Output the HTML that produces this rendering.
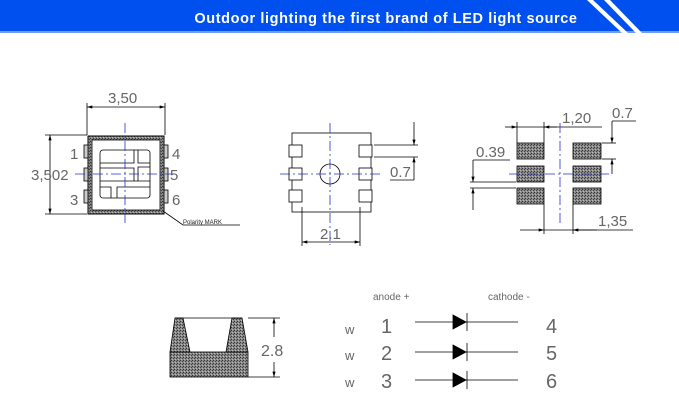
<!DOCTYPE html>
<html><head><meta charset="utf-8"><style>
body{margin:0;width:679px;height:419px;overflow:hidden;background:#fff}
svg{display:block}
text{font-family:"Liberation Sans",sans-serif;fill:#666}
</style></head><body>
<svg width="679" height="419" viewBox="0 0 679 419" xmlns="http://www.w3.org/2000/svg">
<defs>
<pattern id="h" width="3" height="3" patternUnits="userSpaceOnUse"><rect width="3" height="3" fill="#888"/><rect width="1" height="1" fill="#333"/><rect x="2" y="1" width="1" height="1" fill="#444"/><rect x="1" y="2" width="1" height="1" fill="#bbb"/></pattern>
<marker id="a" viewBox="0 0 10 6" refX="10" refY="3" markerWidth="8" markerHeight="4" orient="auto-start-reverse"><path d="M0,0L10,3L0,6z" fill="#000"/></marker>
</defs>
<rect x="0" y="0" width="679" height="32" fill="#0050ef"/>
<rect x="0" y="31" width="679" height="2" fill="#6f9cf5"/>
<polygon points="587,0 593,0 628,33 622,33" fill="#fff"/>
<polygon points="604,0 610,0 642,33 636,33" fill="#fff"/>
<text x="386" y="23" text-anchor="middle" font-size="14.5" font-weight="bold" style="fill:#fff;letter-spacing:0.6px">Outdoor lighting the first brand of LED light source</text>

<g stroke="#000" fill="none" stroke-width="0.8">
<!-- component 1 -->
<rect x="88" y="136" width="76" height="78" fill="url(#h)" stroke-width="1"/>
<rect x="92" y="140" width="68" height="70" fill="#fff"/>
<rect x="100" y="150" width="50" height="48" rx="3"/>
<polyline points="134,150 134,163 100,163"/>
<polyline points="100,168 134,168 134,181"/>
<polyline points="138,150 138,163 150,163"/>
<polyline points="150,167 138,167 138,181"/>
<line x1="100" y1="181" x2="150" y2="181"/>
<polyline points="111,198 111,187 100,187"/>
<polyline points="117,198 117,187 150,187"/>
<rect x="84" y="145" width="4" height="13" fill="#ccc"/><rect x="84" y="168" width="4" height="13" fill="#ccc"/><rect x="84" y="190" width="4" height="13" fill="#ccc"/>
<rect x="164" y="145" width="4" height="13" fill="#ccc"/><rect x="164" y="168" width="4" height="13" fill="#ccc"/><rect x="164" y="190" width="4" height="13" fill="#ccc"/>
<line x1="87" y1="103" x2="87" y2="135"/><line x1="165" y1="103" x2="165" y2="135"/>
<line x1="87" y1="107" x2="165" y2="107" marker-start="url(#a)" marker-end="url(#a)"/>
<line x1="45" y1="135" x2="87" y2="135"/><line x1="45" y1="214" x2="87" y2="214"/>
<line x1="50" y1="135" x2="50" y2="214" marker-start="url(#a)" marker-end="url(#a)"/>
<polyline points="163,211 183,225 240,225"/>
<!-- component 2 -->
<rect x="292" y="133" width="79" height="79"/>
<rect x="289" y="145" width="13" height="12" fill="#fff"/><rect x="289" y="168" width="13" height="12" fill="#fff"/><rect x="289" y="190" width="13" height="12" fill="#fff"/>
<rect x="359" y="145" width="13" height="12" fill="#fff"/><rect x="359" y="168" width="13" height="12" fill="#fff"/><rect x="359" y="190" width="13" height="12" fill="#fff"/>
<circle cx="330" cy="174" r="10"/>
<line x1="302" y1="207" x2="302" y2="246"/><line x1="360" y1="207" x2="360" y2="246"/>
<line x1="302" y1="242" x2="360" y2="242" marker-start="url(#a)" marker-end="url(#a)"/>
<line x1="374" y1="145" x2="418" y2="145"/><line x1="374" y1="157" x2="418" y2="157"/>
<line x1="414" y1="122" x2="414" y2="145" marker-end="url(#a)"/><line x1="414" y1="180" x2="414" y2="157" marker-end="url(#a)"/>
<line x1="390" y1="180" x2="414" y2="180"/>
<!-- pads -->
<rect x="517" y="143" width="27" height="16" fill="url(#h)"/><rect x="517" y="166" width="27" height="16" fill="url(#h)"/><rect x="517" y="188" width="27" height="16" fill="url(#h)"/>
<rect x="573" y="143" width="28" height="16" fill="url(#h)"/><rect x="573" y="166" width="28" height="16" fill="url(#h)"/><rect x="573" y="188" width="28" height="16" fill="url(#h)"/>
<line x1="517" y1="122" x2="517" y2="143"/><line x1="544" y1="122" x2="544" y2="143"/>
<line x1="505" y1="127" x2="517" y2="127" marker-end="url(#a)"/><line x1="557" y1="127" x2="544" y2="127" marker-end="url(#a)"/>
<line x1="517" y1="127" x2="544" y2="127"/><line x1="544" y1="127" x2="602" y2="127"/>
<line x1="602" y1="143" x2="616" y2="143"/><line x1="602" y1="159" x2="616" y2="159"/>
<line x1="612" y1="121" x2="612" y2="143" marker-end="url(#a)"/><line x1="612" y1="174" x2="612" y2="159" marker-end="url(#a)"/>
<line x1="612" y1="121" x2="636" y2="121"/>
<line x1="470" y1="182" x2="516" y2="182"/><line x1="470" y1="188" x2="516" y2="188"/>
<line x1="473" y1="160" x2="473" y2="182" marker-end="url(#a)"/><line x1="473" y1="210" x2="473" y2="188" marker-end="url(#a)"/>
<line x1="473" y1="160" x2="510" y2="160"/>
<line x1="544" y1="204" x2="544" y2="234"/><line x1="573" y1="204" x2="573" y2="234"/>
<line x1="520" y1="230" x2="544" y2="230" marker-end="url(#a)"/><line x1="597" y1="230" x2="573" y2="230" marker-end="url(#a)"/>
<line x1="544" y1="230" x2="633" y2="230"/>
<!-- cup -->
<rect x="170" y="352" width="78" height="25" fill="url(#h)"/>
<polygon points="175,318 183,318 190,352 170,352" fill="url(#h)"/>
<polygon points="232,318 242,318 248,352 226,352" fill="url(#h)"/>
<line x1="175" y1="318" x2="242" y2="318"/>
<line x1="248" y1="318" x2="280" y2="318"/><line x1="248" y1="377" x2="280" y2="377"/>
<line x1="274" y1="318" x2="274" y2="337" marker-start="url(#a)"/><line x1="274" y1="377" x2="274" y2="362" marker-start="url(#a)"/>
<!-- diodes -->
<line x1="415" y1="322" x2="518" y2="322"/><line x1="415" y1="352" x2="518" y2="352"/><line x1="415" y1="380" x2="518" y2="380"/>
<polygon points="453,315 466,322 453,329" fill="#000"/><line x1="467" y1="313" x2="467" y2="331"/>
<polygon points="453,345 466,352 453,359" fill="#000"/><line x1="467" y1="343" x2="467" y2="361"/>
<polygon points="453,373 466,380 453,387" fill="#000"/><line x1="467" y1="371" x2="467" y2="389"/>
</g>
<g stroke="#2030d0" stroke-width="0.8" stroke-dasharray="10,3,2,3" fill="none">
<line x1="125" y1="123" x2="125" y2="225"/><line x1="75" y1="174" x2="177" y2="174"/>
<line x1="330" y1="123" x2="330" y2="245"/><line x1="280" y1="174" x2="383" y2="174"/>
<line x1="560" y1="123" x2="560" y2="225"/><line x1="509" y1="174" x2="610" y2="174"/>
</g>
<g font-size="15">
<text x="108" y="103">3,50</text>
<text x="31" y="180">3,502</text>
<text x="70" y="159">1</text><text x="70" y="205">3</text>
<text x="172" y="159">4</text><text x="170" y="180">5</text><text x="172" y="205">6</text>
<text x="320" y="239">2.1</text>
<text x="390" y="177">0.7</text>
<text x="562" y="123">1,20</text>
<text x="612" y="118">0.7</text>
<text x="476" y="157">0.39</text>
<text x="598" y="226">1,35</text>
<text x="261" y="356" font-size="16">2.8</text>
</g>
<text x="183" y="224" font-size="6" style="fill:#222">Polarity MARK</text>
<g font-size="10" style="fill:#444">
<text x="373" y="300">anode +</text><text x="488" y="300">cathode -</text>
</g>
<g font-size="13" style="fill:#444">
<text x="345" y="334">w</text><text x="345" y="360">w</text><text x="345" y="387">w</text>
</g>
<g font-size="20">
<text x="381" y="333">1</text><text x="381" y="360">2</text><text x="381" y="388">3</text>
<text x="546" y="333">4</text><text x="546" y="360">5</text><text x="546" y="388">6</text>
</g>
</svg>
</body></html>
